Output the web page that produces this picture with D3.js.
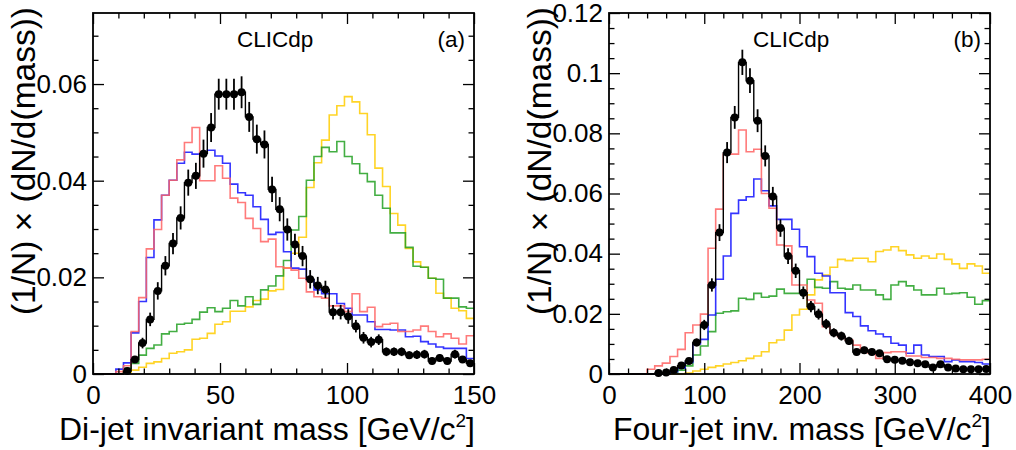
<!DOCTYPE html>
<html><head><meta charset="utf-8">
<script src="https://cdn.jsdelivr.net/npm/d3@7"></script>
<style>
body{margin:0;background:#fff}
svg{display:block}
text{font-family:"Liberation Sans",Arial,Helvetica,sans-serif;fill:#000}
</style>
</head><body>
<svg id="chart" width="1016" height="450"></svg>
<script>
// ---------- Panel (a): di-jet invariant mass, 3 GeV bins ----------
const dijetBinWidth = 3;
const dijetXTicks = [0, 50, 100, 150];
const dijetXMinor = [10, 20, 30, 40, 60, 70, 80, 90, 110, 120, 130, 140];
const dijetYTicks = [0, 0.02, 0.04, 0.06];
const dijetYMinor = [0.005, 0.01, 0.015, 0.025, 0.03, 0.035, 0.045, 0.05, 0.055, 0.065, 0.07];
const dijetData = [
  0, 0, 0, 0, 0.0006, 0.0030, 0.0064, 0.0113, 0.0172, 0.0224,
  0.0270, 0.0323, 0.0396, 0.0410, 0.0456, 0.0510, 0.0579, 0.0579, 0.0579, 0.0583,
  0.0532, 0.0486, 0.0475, 0.0382, 0.0341, 0.0299, 0.0268, 0.0244, 0.0196, 0.0183,
  0.0175, 0.0128, 0.0128, 0.0119, 0.0099, 0.0075, 0.0066, 0.0071, 0.0046, 0.0046,
  0.0046, 0.0039, 0.0040, 0.0041, 0.0027, 0.0033, 0.0027, 0.0041, 0.0030, 0.0022];
const dijetErr = [
  0, 0, 0, 0, 0.0003, 0.0007, 0.0011, 0.0014, 0.0018, 0.0020,
  0.0022, 0.0024, 0.0027, 0.0027, 0.0029, 0.0030, 0.0032, 0.0032, 0.0032, 0.0033,
  0.0031, 0.0030, 0.0029, 0.0026, 0.0025, 0.0023, 0.0022, 0.0021, 0.0019, 0.0018,
  0.0018, 0.0015, 0.0015, 0.0015, 0.0013, 0.0012, 0.0011, 0.0011, 0.0009, 0.0009,
  0.0009, 0.0008, 0.0009, 0.0009, 0.0007, 0.0008, 0.0007, 0.0009, 0.0007, 0.0006];
const dijetRed = [
  0, 0, 0, 0.0005, 0.0017, 0.0088, 0.0158, 0.0259, 0.0299, 0.0370,
  0.0401, 0.0443, 0.0479, 0.0510, 0.0400, 0.0400, 0.0431, 0.0405, 0.0364, 0.0355,
  0.0322, 0.0301, 0.0274, 0.0279, 0.0222, 0.0219, 0.0215, 0.0198, 0.0170, 0.0160,
  0.0157, 0.0141, 0.0141, 0.0129, 0.0166, 0.0129, 0.0138, 0.0098, 0.0103, 0.0105,
  0.0088, 0.0088, 0.0091, 0.0099, 0.0088, 0.0077, 0.0083, 0.0074, 0.0062, 0.0079];
const dijetBlue = [
  0, 0, 0, 0.0010, 0.0023, 0.0085, 0.0150, 0.0241, 0.0319, 0.0370,
  0.0401, 0.0436, 0.0459, 0.0455, 0.0457, 0.0463, 0.0451, 0.0436, 0.0393, 0.0375,
  0.0370, 0.0346, 0.0320, 0.0289, 0.0293, 0.0253, 0.0219, 0.0217, 0.0195, 0.0174,
  0.0166, 0.0166, 0.0146, 0.0136, 0.0122, 0.0122, 0.0108, 0.0092, 0.0092, 0.0091,
  0.0091, 0.0077, 0.0078, 0.0067, 0.0062, 0.0056, 0.0053, 0.0053, 0.0053, 0.0032];
const dijetGreen = [
  0, 0, 0, 0, 0.0012, 0.0022, 0.0039, 0.0053, 0.0060, 0.0083,
  0.0088, 0.0103, 0.0105, 0.0113, 0.0128, 0.0137, 0.0129, 0.0136, 0.0152, 0.0141,
  0.0160, 0.0144, 0.0174, 0.0182, 0.0203, 0.0235, 0.0298, 0.0326, 0.0401, 0.0450,
  0.0469, 0.0460, 0.0481, 0.0450, 0.0435, 0.0415, 0.0398, 0.0370, 0.0343, 0.0292,
  0.0292, 0.0262, 0.0223, 0.0221, 0.0198, 0.0196, 0.0157, 0.0157, 0.0139, 0.0136];
const dijetYellow = [
  0, 0, 0, 0, 0.0003, 0.0008, 0.0014, 0.0022, 0.0025, 0.0032,
  0.0043, 0.0046, 0.0050, 0.0072, 0.0074, 0.0084, 0.0103, 0.0108, 0.0130, 0.0130,
  0.0139, 0.0152, 0.0155, 0.0172, 0.0175, 0.0220, 0.0250, 0.0283, 0.0386, 0.0437,
  0.0484, 0.0536, 0.0555, 0.0574, 0.0563, 0.0539, 0.0495, 0.0426, 0.0388, 0.0332,
  0.0308, 0.0260, 0.0232, 0.0221, 0.0198, 0.0167, 0.0157, 0.0136, 0.0131, 0.0115];

// ---------- Panel (b): four-jet invariant mass, 8 GeV bins ----------
const fourjetBinWidth = 8;
const fourjetXTicks = [0, 100, 200, 300, 400];
const fourjetXMinor = [20, 40, 60, 80, 120, 140, 160, 180, 220, 240, 260, 280, 320, 340, 360, 380];
const fourjetYTicks = [0, 0.02, 0.04, 0.06, 0.08, 0.1, 0.12];
const fourjetYMinor = [0.005, 0.01, 0.015, 0.025, 0.03, 0.035, 0.045, 0.05, 0.055, 0.065, 0.07, 0.075,
  0.085, 0.09, 0.095, 0.105, 0.11, 0.115];
const fourjetData = [
  0, 0, 0, 0, 0, 0, 0.0003, 0.0005, 0.0013, 0.0028,
  0.0043, 0.0105, 0.0163, 0.0296, 0.0470, 0.0736, 0.0853, 0.1036, 0.0975, 0.0842,
  0.0725, 0.0590, 0.0485, 0.0392, 0.0343, 0.0270, 0.0224, 0.0199, 0.0166, 0.0137,
  0.0126, 0.0110, 0.0073, 0.0079, 0.0073, 0.0069, 0.0049, 0.0047, 0.0044, 0.0039,
  0.0036, 0.0032, 0.0022, 0.0032, 0.0022, 0.0018, 0.0016, 0.0016, 0.0016, 0.0017];
const fourjetErr = [
  0, 0, 0, 0, 0, 0, 0.0002, 0.0003, 0.0005, 0.0007,
  0.0009, 0.0013, 0.0017, 0.0022, 0.0028, 0.0035, 0.0038, 0.0042, 0.0041, 0.0038,
  0.0035, 0.0032, 0.0029, 0.0026, 0.0024, 0.0021, 0.0019, 0.0018, 0.0017, 0.0015,
  0.0015, 0.0014, 0.0011, 0.0012, 0.0011, 0.0011, 0.0009, 0.0009, 0.0009, 0.0008,
  0.0008, 0.0007, 0.0006, 0.0007, 0.0006, 0.0006, 0.0005, 0.0005, 0.0005, 0.0005];
const fourjetRed = [
  0, 0, 0, 0, 0, 0.0016, 0.0027, 0.0036, 0.0058, 0.0082,
  0.0137, 0.0163, 0.0199, 0.0418, 0.0548, 0.0731, 0.0731, 0.0811, 0.0739, 0.0747,
  0.0600, 0.0551, 0.0429, 0.0426, 0.0296, 0.0296, 0.0246, 0.0235, 0.0157, 0.0135,
  0.0124, 0.0113, 0.0096, 0.0080, 0.0069, 0.0052, 0.0071, 0.0074, 0.0074, 0.0060,
  0.0060, 0.0055, 0.0055, 0.0052, 0.0052, 0.0049, 0.0047, 0.0047, 0.0047, 0.0049];
const fourjetBlue = [
  0, 0, 0, 0, 0, 0, 0, 0, 0.0008, 0.0019,
  0.0038, 0.0100, 0.0115, 0.0196, 0.0315, 0.0392, 0.0534, 0.0578, 0.0589, 0.0648,
  0.0609, 0.0559, 0.0514, 0.0514, 0.0481, 0.0423, 0.0390, 0.0335, 0.0326, 0.0270,
  0.0270, 0.0204, 0.0191, 0.0160, 0.0144, 0.0133, 0.0124, 0.0102, 0.0096, 0.0069,
  0.0096, 0.0063, 0.0058, 0.0058, 0.0041, 0.0047, 0.0041, 0.0041, 0.0038, 0.0033];
const fourjetGreen = [
  0, 0, 0, 0, 0, 0, 0, 0, 0.0005, 0.0013,
  0.0027, 0.0063, 0.0093, 0.0141, 0.0202, 0.0207, 0.0210, 0.0252, 0.0248, 0.0268,
  0.0255, 0.0259, 0.0282, 0.0268, 0.0268, 0.0268, 0.0315, 0.0288, 0.0285, 0.0307,
  0.0285, 0.0282, 0.0296, 0.0279, 0.0279, 0.0263, 0.0248, 0.0296, 0.0307, 0.0293,
  0.0279, 0.0263, 0.0263, 0.0285, 0.0266, 0.0268, 0.0270, 0.0255, 0.0232, 0.0244];
const fourjetYellow = [
  0, 0, 0, 0, 0, 0, 0, 0, 0, 0,
  0.0003, 0.0010, 0.0016, 0.0022, 0.0027, 0.0033, 0.0038, 0.0044, 0.0052, 0.0060,
  0.0074, 0.0104, 0.0113, 0.0146, 0.0196, 0.0215, 0.0263, 0.0313, 0.0329, 0.0355,
  0.0381, 0.0377, 0.0385, 0.0385, 0.0373, 0.0407, 0.0412, 0.0423, 0.0410, 0.0396,
  0.0385, 0.0392, 0.0385, 0.0399, 0.0381, 0.0366, 0.0351, 0.0366, 0.0359, 0.0335];

const colors = {yellow: "#ffcc00", green: "#22a022", blue: "#1010ff", red: "#ff6363", data: "#000000"};

const svg = d3.select("#chart");
const fmt = d => d === 0 ? "0" : String(+d.toFixed(3));

function drawPanel(p) {
  const x = d3.scaleLinear().domain(p.xDomain).range([p.left, p.right]);
  const y = d3.scaleLinear().domain(p.yDomain).range([p.bottom, p.top]);
  const g = svg.append("g");

  // histograms (step outlines)
  const n = p.data.length;
  const edges = d3.range(n + 1).map(i => p.xDomain[0] + i * p.binWidth);
  const line = d3.line().x(d => x(d[0])).y(d => y(d[1])).curve(d3.curveStepAfter);
  const hist = vals => line(edges.map((e, i) => [e, vals[Math.min(i, n - 1)]]));
  const order = [["yellow", p.yellow], ["green", p.green], ["blue", p.blue], ["red", p.red]];
  order.forEach(([c, vals]) => {
    g.append("path").attr("d", hist(vals)).attr("fill", "none")
      .attr("stroke", colors[c]).attr("stroke-width", 1.6).attr("stroke-opacity", 0.85);
  });
  g.append("path").attr("d", hist(p.data)).attr("fill", "none")
    .attr("stroke", "#000").attr("stroke-width", 1.4);

  // data points with error bars
  const pts = p.data.map((v, i) => ({xc: edges[i] + p.binWidth / 2, v, e: p.err[i]})).filter(d => d.v > 0);
  g.selectAll(null).data(pts).enter().append("line")
    .attr("x1", d => x(d.xc)).attr("x2", d => x(d.xc))
    .attr("y1", d => y(d.v - d.e)).attr("y2", d => y(d.v + d.e))
    .attr("stroke", "#000").attr("stroke-width", 1.8);
  g.selectAll(null).data(pts).enter().append("circle")
    .attr("cx", d => x(d.xc)).attr("cy", d => y(d.v)).attr("r", 4).attr("fill", "#000");

  // axes
  const major = 11, minor = 5.5;
  const addAxis = (axis, transform, labels) => {
    const a = g.append("g").attr("transform", transform).call(axis);
    a.select(".domain").remove();
    a.selectAll(".tick line").attr("stroke", "#000").attr("stroke-width", 1.3);
    if (labels) a.selectAll("text").attr("font-size", 26).attr("fill", "#000")
      .style("font-family", '"Liberation Sans", Arial, sans-serif');
    return a;
  };
  addAxis(d3.axisBottom(x).tickValues(p.xTicks).tickSize(-major).tickPadding(12).tickFormat(d3.format("d")),
    `translate(0,${p.bottom})`, true);
  addAxis(d3.axisBottom(x).tickValues(p.xMinor).tickSize(-minor).tickFormat(""), `translate(0,${p.bottom})`);
  addAxis(d3.axisTop(x).tickValues(p.xTicks).tickSize(-major).tickFormat(""), `translate(0,${p.top})`);
  addAxis(d3.axisTop(x).tickValues(p.xMinor).tickSize(-minor).tickFormat(""), `translate(0,${p.top})`);
  addAxis(d3.axisLeft(y).tickValues(p.yTicks).tickSize(-major).tickPadding(6).tickFormat(fmt),
    `translate(${p.left},0)`, true);
  addAxis(d3.axisLeft(y).tickValues(p.yMinor).tickSize(-minor).tickFormat(""), `translate(${p.left},0)`);
  addAxis(d3.axisRight(y).tickValues(p.yTicks).tickSize(-major).tickFormat(""), `translate(${p.right},0)`);
  addAxis(d3.axisRight(y).tickValues(p.yMinor).tickSize(-minor).tickFormat(""), `translate(${p.right},0)`);

  // frame
  g.append("rect").attr("x", p.left).attr("y", p.top)
    .attr("width", p.right - p.left).attr("height", p.bottom - p.top)
    .attr("fill", "none").attr("stroke", "#000").attr("stroke-width", 1.8);

  // labels
  g.append("text").attr("x", p.left + 144).attr("y", 47).attr("font-size", 22.5).text("CLICdp");
  g.append("text").attr("x", p.right - 9).attr("y", 47).attr("font-size", 22.5)
    .attr("text-anchor", "end").text(p.tag);

  const xt = g.append("text").attr("x", p.right + 1).attr("y", 440).attr("font-size", 32)
    .attr("text-anchor", "end");
  xt.append("tspan").text(p.xTitle + " [GeV/c");
  xt.append("tspan").attr("font-size", 19).attr("dy", -13).text("2");
  xt.append("tspan").attr("dy", 13).text("]");

  g.append("text").attr("transform", `translate(${p.left - 58},7) rotate(-90)`)
    .attr("font-size", 33.5).attr("text-anchor", "end").text("(1/N) \u00d7 (dN/d(mass))");
}

drawPanel({
  left: 93, right: 474, top: 13, bottom: 374,
  xDomain: [0, 150], yDomain: [0, 0.0747], binWidth: dijetBinWidth,
  xTicks: dijetXTicks, xMinor: dijetXMinor, yTicks: dijetYTicks, yMinor: dijetYMinor,
  data: dijetData, err: dijetErr, red: dijetRed, blue: dijetBlue, green: dijetGreen, yellow: dijetYellow,
  tag: "(a)", xTitle: "Di-jet invariant mass"
});
drawPanel({
  left: 609, right: 990, top: 13, bottom: 374,
  xDomain: [0, 400], yDomain: [0, 0.12], binWidth: fourjetBinWidth,
  xTicks: fourjetXTicks, xMinor: fourjetXMinor, yTicks: fourjetYTicks, yMinor: fourjetYMinor,
  data: fourjetData, err: fourjetErr, red: fourjetRed, blue: fourjetBlue, green: fourjetGreen, yellow: fourjetYellow,
  tag: "(b)", xTitle: "Four-jet inv. mass"
});
</script>
</body></html>
